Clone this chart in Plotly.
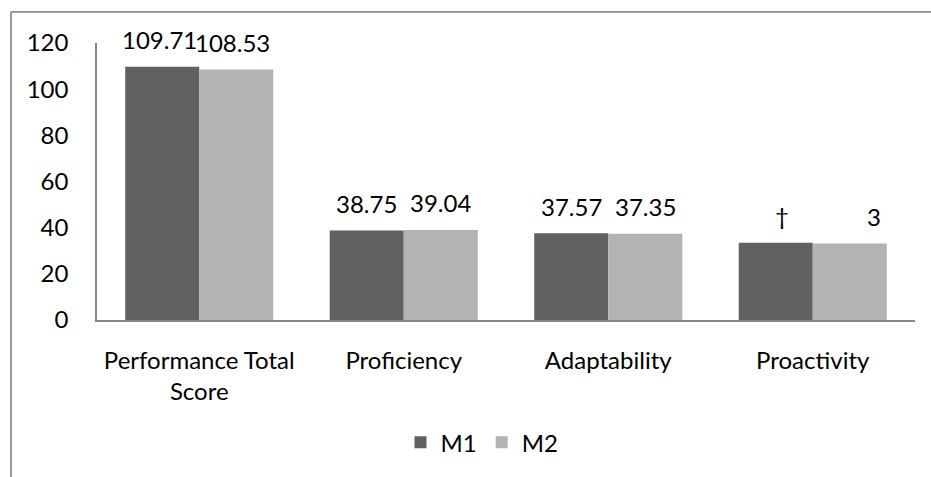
import plotly.graph_objects as go

categories = ["Performance Total<br>Score", "Proficiency", "Adaptability", "Proactivity"]
m1_values = [109.71, 38.75, 37.57, 33.43]
m2_values = [108.53, 39.04, 37.35, 33.09]
m1_labels = ["109.71", "38.75", "37.57", "\u2020"]
m2_labels = ["108.53", "39.04", "37.35", "3"]
y_ticks = [0, 20, 40, 60, 80, 100, 120]

W, H = 931, 477
ML, MR, MT, MB = 97, 16, 43, 154
PW, PH = W - ML - MR, H - MT - MB
FONT = "Lato"
FS = 24
AXIS_COLOR = "#878787"

fig = go.Figure()
fig.add_trace(go.Bar(name="M1", x=categories, y=m1_values,
                     marker=dict(color="#616161", line=dict(width=0))))
fig.add_trace(go.Bar(name="M2", x=categories, y=m2_values,
                     marker=dict(color="#b3b3b3", line=dict(width=0))))

# data labels
half_bar = 37
m1_nudge = [-3, 0, 0, 6]
m2_nudge = [-4, 0, 0, 24]
annotations = []
for i, c in enumerate(categories):
    annotations.append(dict(x=c, y=m1_values[i], xref="x", yref="y", text=m1_labels[i],
                            showarrow=False, xshift=-half_bar + m1_nudge[i], yshift=27,
                            yanchor="middle", xanchor="center",
                            font=dict(family=FONT, size=FS, color="#000000")))
    annotations.append(dict(x=c, y=m2_values[i], xref="x", yref="y", text=m2_labels[i],
                            showarrow=False, xshift=half_bar + m2_nudge[i], yshift=27,
                            yanchor="middle", xanchor="center",
                            font=dict(family=FONT, size=FS, color="#000000")))

# outer chart frame (left and top edges visible)
fx0 = (11 - ML) / PW
fy0 = (H - MB - 11.5) / PH
shapes = [
    dict(type="line", xref="paper", yref="paper", x0=fx0, x1=1.05, y0=fy0, y1=fy0,
         line=dict(color="#8c8c8c", width=1.75)),
    dict(type="line", xref="paper", yref="paper", x0=fx0, x1=fx0, y0=fy0, y1=-0.7,
         line=dict(color="#8c8c8c", width=1.75)),
]

fig.update_layout(
    width=W, height=H,
    margin=dict(l=ML, r=MR, t=MT, b=MB, pad=0),
    paper_bgcolor="white", plot_bgcolor="white",
    font=dict(family=FONT, size=FS, color="#000000"),
    barmode="group", bargap=0.276, bargroupgap=0,
    showlegend=True,
    legend=dict(orientation="h", x=(482 - ML) / PW, xanchor="center",
                y=(H - MB - 447) / PH, yanchor="middle",
                font=dict(family=FONT, size=FS, color="#000000"),
                bgcolor="rgba(0,0,0,0)"),
    annotations=annotations,
    shapes=shapes,
)
fig.update_xaxes(showline=True, linecolor=AXIS_COLOR, linewidth=1.5, showgrid=False,
                 ticks="", zeroline=False, ticklabelstandoff=18,
                 tickfont=dict(family=FONT, size=FS, color="#000000"))
fig.update_yaxes(range=[0, 120], tickvals=y_ticks, showline=True, linecolor=AXIS_COLOR,
                 linewidth=1.5, showgrid=False, zeroline=False, ticks="",
                 ticklabelstandoff=22,
                 tickfont=dict(family=FONT, size=FS, color="#000000"))

fig.write_html("out.html")
